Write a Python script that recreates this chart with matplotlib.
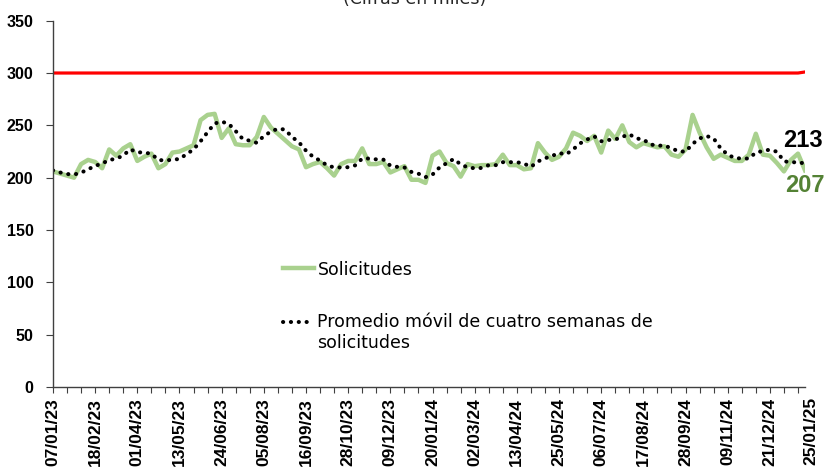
import numpy as np
import matplotlib.pyplot as plt
from matplotlib.legend_handler import HandlerLine2D
import matplotlib.transforms as mtransforms

# solicitudes semanales (miles), 07/01/23 .. 25/01/25
solicitudes = [206, 204, 202, 200, 213, 217, 215, 209, 227, 221,
               228, 232, 216, 220, 223, 209, 213, 224, 225, 228,
               231, 255, 260, 261, 238, 247, 232, 231, 231, 239,
               258, 248, 242, 236, 230, 227, 210, 213, 215, 209,
               202, 213, 216, 216, 228, 213, 213, 215, 205, 208,
               211, 198, 198, 195, 221, 225, 214, 211, 201, 213,
               211, 212, 212, 213, 222, 212, 212, 208, 209, 233,
               224, 217, 220, 228, 243, 240, 235, 240, 224, 245,
               237, 250, 234, 229, 233, 231, 229, 230, 222, 220,
               227, 260, 243, 229, 218, 222, 219, 216, 216, 222,
               242, 222, 221, 214, 206, 217, 223, 207]

# promedio movil de cuatro semanas
promedio = [207, 205, 203.5, 203, 204.8, 208, 211.3, 213.5, 217, 218,
            221.3, 227, 224.3, 224, 222.8, 217, 216.3, 217.3, 217.8, 222.5,
            227, 234.8, 243.5, 251.8, 253.5, 251.5, 244.5, 237, 235.3, 233.3,
            239.8, 244, 246.8, 246, 239, 233.8, 225.8, 220, 216.3, 211.8,
            209.8, 209.8, 210, 211.8, 218.3, 218.3, 217.5, 217.3, 211.5, 210.3,
            209.8, 205.5, 203.8, 200.5, 203, 209.8, 213.8, 217.8, 212.8, 209.8,
            209, 209.3, 212, 212, 214.8, 214.8, 214.8, 213.5, 210.3, 215.5,
            218.5, 220.8, 223.5, 222.3, 227, 232.8, 236.5, 239.5, 234.8, 236,
            236.5, 239, 241.5, 237.5, 236.5, 231.8, 230.5, 230.8, 228, 225.3,
            224.8, 232.3, 237.5, 239.8, 237.5, 228, 222, 218.8, 218.3, 218.3,
            224, 225.5, 226.8, 224.8, 215.8, 214.5, 215, 213.3]

umbral = [300] * 107 + [301]

etiquetas = ['07/01/23', '18/02/23', '01/04/23', '13/05/23', '24/06/23',
             '05/08/23', '16/09/23', '28/10/23', '09/12/23', '20/01/24',
             '02/03/24', '13/04/24', '25/05/24', '06/07/24', '17/08/24',
             '28/09/24', '09/11/24', '21/12/24']
etiqueta_final = '25/01/25'

x = np.arange(len(solicitudes))


class HandlerArriba(HandlerLine2D):
    # sube el simbolo a la primera linea del texto
    def __init__(self, shift=0, **kw):
        super().__init__(**kw)
        self.shift = shift

    def create_artists(self, legend, orig_handle, xdescent, ydescent,
                       width, height, fontsize, trans):
        arts = super().create_artists(legend, orig_handle, xdescent, ydescent,
                                      width, height, fontsize, trans)
        for a in arts:
            a.set_ydata([y + self.shift for y in a.get_ydata()])
        return arts


fig = plt.figure(figsize=(8.25, 4.69), dpi=100)
ax = fig.add_axes([0.0642, 0.1748, 0.9116, 0.7811])

ax.plot(x, umbral, color='red', lw=2.3)
l1, = ax.plot(x, solicitudes, color='#A9D18E', lw=3.2, solid_joinstyle='round',
              label='Solicitudes')
l2, = ax.plot(x, promedio, color='black', lw=2.9, linestyle=(0, (0.05, 1.9)),
              dash_capstyle='round',
              label='Promedio móvil de cuatro semanas de\nsolicitudes')

ax.set_xlim(0, len(solicitudes) - 1)
ax.set_ylim(0, 350)
ax.set_yticks(range(0, 351, 50))
ticks = list(range(0, len(solicitudes) - 1, 2))
ax.set_xticks(ticks)
ax.set_xticklabels([etiquetas[t // 6] if t % 6 == 0 else '' for t in ticks],
                   rotation=90, fontsize=12.5, fontweight='bold',
                   family='Liberation Sans', va='top')
for lab in ax.get_yticklabels():
    lab.set_fontweight('bold')
    lab.set_family('Liberation Sans')
    lab.set_fontsize(11.5)
ax.tick_params(axis='x', length=4, pad=4, color='#404040')
ax.tick_params(axis='y', length=5, pad=9, color='#404040')

trans = mtransforms.blended_transform_factory(ax.transData, ax.transAxes)
ax.text(len(solicitudes) - 1 + 0.8, -0.027, etiqueta_final, transform=trans,
        rotation=90, ha='center', va='top', fontsize=12.5, fontweight='bold',
        family='Liberation Sans')

for s in ['top', 'right']:
    ax.spines[s].set_visible(False)
for s in ['left', 'bottom']:
    ax.spines[s].set_color('#404040')
    ax.spines[s].set_linewidth(1)

ax.annotate(f'{promedio[-1]:.0f}', xy=(x[-1], promedio[-1]), xytext=(-16, 17),
            textcoords='offset points', fontsize=17, fontweight='bold',
            family='Liberation Sans', color='black', va='center', ha='left')
ax.annotate(f'{solicitudes[-1]:.0f}', xy=(x[-1], solicitudes[-1]), xytext=(-14, -11),
            textcoords='offset points', fontsize=17, fontweight='bold',
            family='Liberation Sans', color='#548235', va='center', ha='left')

ax.legend(handles=[l1, l2], loc='upper left', bbox_to_anchor=(0.294, 0.369),
          frameon=False, fontsize=12.5, borderpad=0, handlelength=1.8,
          handletextpad=0.2, labelspacing=2.0,
          handler_map={l2: HandlerArriba(shift=8)})

fig.text(0.502, 0.9915, '(Cifras en miles)', ha='center', va='baseline',
         fontsize=12.5, color='#262626')

fig.savefig('out.png', dpi=100)
